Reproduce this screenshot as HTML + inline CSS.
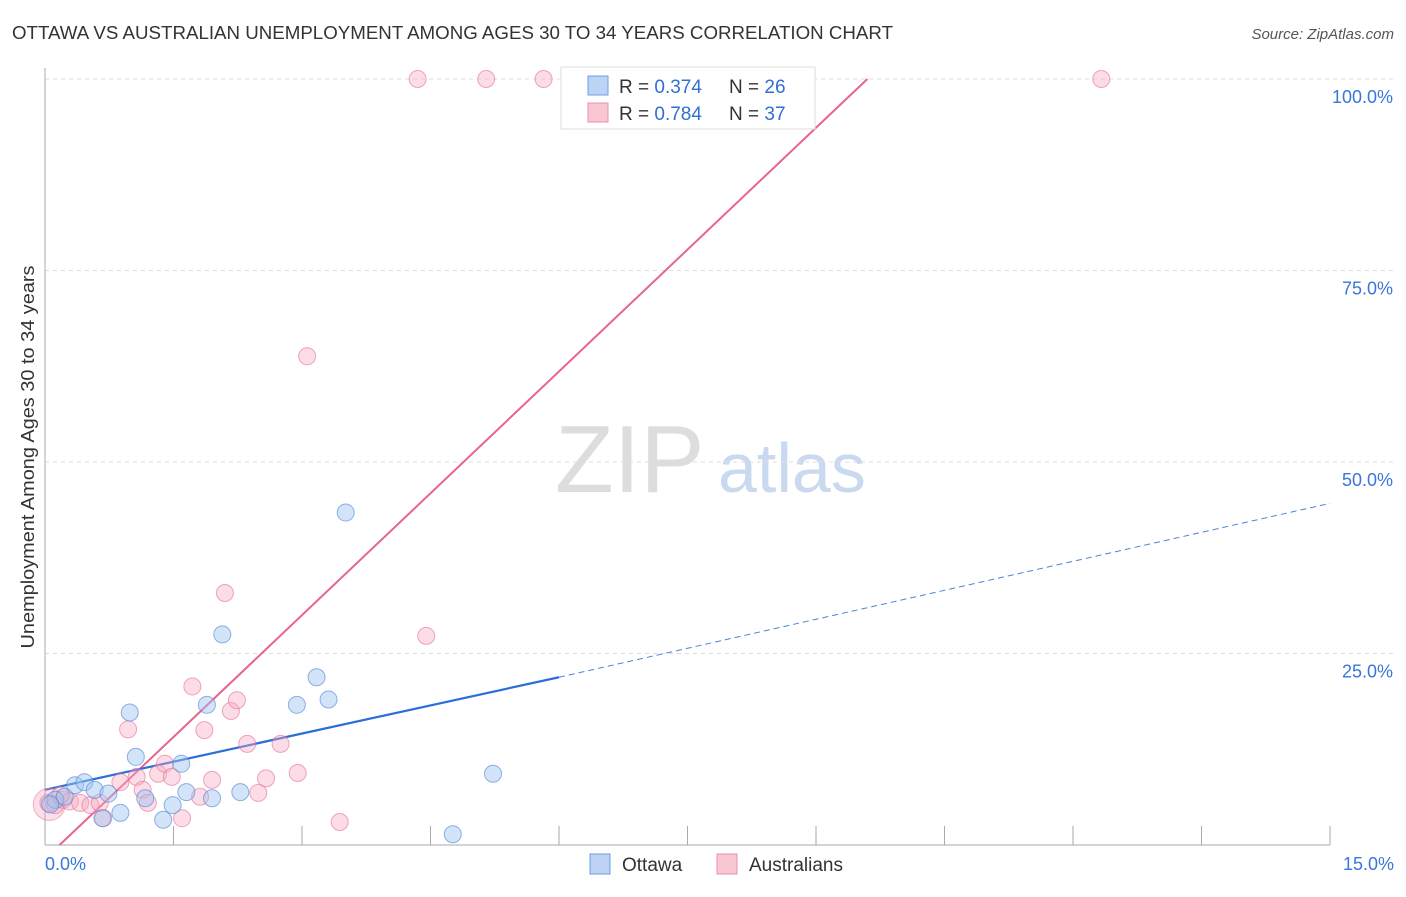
<!DOCTYPE html>
<html><head><meta charset="utf-8"><style>
body{margin:0;background:#fff;font-family:"Liberation Sans",sans-serif}
svg text{font-family:"Liberation Sans",sans-serif}
</style></head><body>
<svg width="1406" height="892" id="chart">
<text x="12" y="39" font-size="18" textLength="881" lengthAdjust="spacingAndGlyphs" fill="#333">OTTAWA VS AUSTRALIAN UNEMPLOYMENT AMONG AGES 30 TO 34 YEARS CORRELATION CHART</text>
<text x="1394" y="39" font-size="15" fill="#555" font-style="italic" text-anchor="end">Source: ZipAtlas.com</text>
<text x="555" y="492" font-size="96" fill="#ddd" font-family="Liberation Serif">ZIP</text>
<text x="718" y="492" font-size="70" fill="#c9daf0">atlas</text>
<text transform="translate(34,457) rotate(-90)" font-size="18" textLength="383" lengthAdjust="spacingAndGlyphs" fill="#333" text-anchor="middle">Unemployment Among Ages 30 to 34 years</text>
<g id="grid"></g><g id="lines"></g><g id="pts"></g>
<g>
<rect x="561" y="67" width="254" height="62" fill="#fff" stroke="#ddd"/>
<rect x="588" y="76" width="20" height="19" fill="#bcd3f3" stroke="#6f9de0"/>
<rect x="588" y="103" width="20" height="19" fill="#f9c6d4" stroke="#e890ab"/>
<text x="619" y="93" font-size="19" fill="#333">R = <tspan fill="#2f6fd6">0.374</tspan></text>
<text x="729" y="93" font-size="19" fill="#333">N = <tspan fill="#2f6fd6">26</tspan></text>
<text x="619" y="120" font-size="19" fill="#333">R = <tspan fill="#2f6fd6">0.784</tspan></text>
<text x="729" y="120" font-size="19" fill="#333">N = <tspan fill="#2f6fd6">37</tspan></text>
</g>
<g>
<rect x="590" y="854" width="20" height="20" fill="#bcd3f3" stroke="#6f9de0"/>
<text x="622" y="871" font-size="19" fill="#333">Ottawa</text>
<rect x="717" y="854" width="20" height="20" fill="#f9c6d4" stroke="#e890ab"/>
<text x="749" y="871" font-size="19" fill="#333">Australians</text>
</g>
</svg>
<script>
const yTicks=[25,50,75,100];
const yTickLabels=["25.0%","50.0%","75.0%","100.0%"];
const xTicks=[1.5,3,4.5,6,7.5,9,10.5,12,13.5,15];
const ottawaX=[0.12,0.23,0.35,0.46,0.58,0.67,0.74,0.88,0.99,1.06,1.17,1.38,1.49,1.59,1.65,1.89,1.95,2.07,2.28,2.94,3.17,3.31,3.51,4.76,5.23,0.06];
const ottawaY=[5.9,6.3,7.8,8.2,7.2,3.5,6.7,4.2,17.3,11.5,6.1,3.3,5.2,10.6,6.9,18.3,6.1,27.5,6.9,18.3,21.9,19.0,43.4,1.4,9.3,5.3];
const ausX=[0.04,0.12,0.21,0.29,0.41,0.53,0.64,0.68,0.88,0.97,1.07,1.14,1.2,1.32,1.4,1.48,1.6,1.72,1.86,1.81,1.95,2.1,2.17,2.24,2.36,2.49,2.58,2.75,2.95,3.06,3.44,4.35,4.45,5.15,5.82,12.33,0.18];
const ausY=[5.5,5.2,5.9,5.7,5.5,5.2,5.5,3.5,8.2,15.1,8.9,7.2,5.5,9.3,10.6,8.9,3.5,20.7,15.0,6.3,8.5,32.9,17.5,18.9,13.2,6.8,8.7,13.2,9.4,63.8,3.0,100,27.3,100,100,100,6.5];
const ottawaLine=[[0,7.2],[6,21.9]];
const ottawaDash=[[6,21.9],[15,44.6]];
const ausLine=[[0.17,0],[9.6,100]];
const X0=45,X1=1330,Y0=845,Y100=79;
const sx=v=>X0+(X1-X0)*v/15, sy=v=>Y0+(Y100-Y0)*v/100;
const NS="http://www.w3.org/2000/svg";
function mk(t,a,p){const e=document.createElementNS(NS,t);for(const k in a)e.setAttribute(k,a[k]);p.appendChild(e);return e;}
const grid=document.getElementById('grid');
yTicks.forEach((t,i)=>{
 const l=mk('line',{x1:X0,x2:1394,y1:sy(t),y2:sy(t),stroke:'#ddd','stroke-dasharray':'4,4'},grid);
 
 
 const tx=mk('text',{x:1393,y:sy(t)+24,'font-size':18,fill:'#3a76d8','text-anchor':'end'},grid);tx.textContent=yTickLabels[i];
 
 
});
const ax=mk('line',{x1:X0,x2:X0,y1:68,y2:Y0,stroke:'#aaa'},grid);


const bx=mk('line',{x1:X0,x2:X1,y1:Y0,y2:Y0,stroke:'#aaa'},grid);


xTicks.forEach(t=>{const l=mk('line',{x1:sx(t),x2:sx(t),y1:Y0,y2:Y0-19,stroke:'#aaa'},grid);
 
 });
let t0=mk('text',{x:45,y:870,'font-size':18,fill:'#3a76d8'},grid);t0.textContent='0.0%';


let t1=mk('text',{x:1394,y:870,'font-size':18,fill:'#3a76d8','text-anchor':'end'},grid);t1.textContent='15.0%';


const pts=document.getElementById('pts');
const big=mk('circle',{cx:sx(0.05),cy:sy(5.3),r:16,fill:'rgba(244,160,185,0.35)',stroke:'rgba(230,110,145,0.5)'},pts);


ausX.forEach((x,i)=>{const c=mk('circle',{cx:sx(x),cy:sy(ausY[i]),r:8.5,fill:'rgba(247,170,195,0.4)',stroke:'rgba(230,110,145,0.6)'},pts);
 
 });
ottawaX.forEach((x,i)=>{const c=mk('circle',{cx:sx(x),cy:sy(ottawaY[i]),r:8.5,fill:'rgba(160,195,240,0.45)',stroke:'rgba(70,130,215,0.6)'},pts);
 
 });
const lines=document.getElementById('lines');
const a=mk('line',{x1:sx(ausLine[0][0]),y1:sy(ausLine[0][1]),x2:sx(ausLine[1][0]),y2:sy(ausLine[1][1]),stroke:'#e8648f','stroke-width':2},lines);


const o=mk('line',{x1:sx(ottawaLine[0][0]),y1:sy(ottawaLine[0][1]),x2:sx(ottawaLine[1][0]),y2:sy(ottawaLine[1][1]),stroke:'#2a6fd8','stroke-width':2.2},lines);


const d=mk('line',{x1:sx(ottawaDash[0][0]),y1:sy(ottawaDash[0][1]),x2:sx(ottawaDash[1][0]),y2:sy(ottawaDash[1][1]),stroke:'#4a85dc','stroke-width':1,'stroke-dasharray':'6,4'},lines);


</script>
</body></html>
